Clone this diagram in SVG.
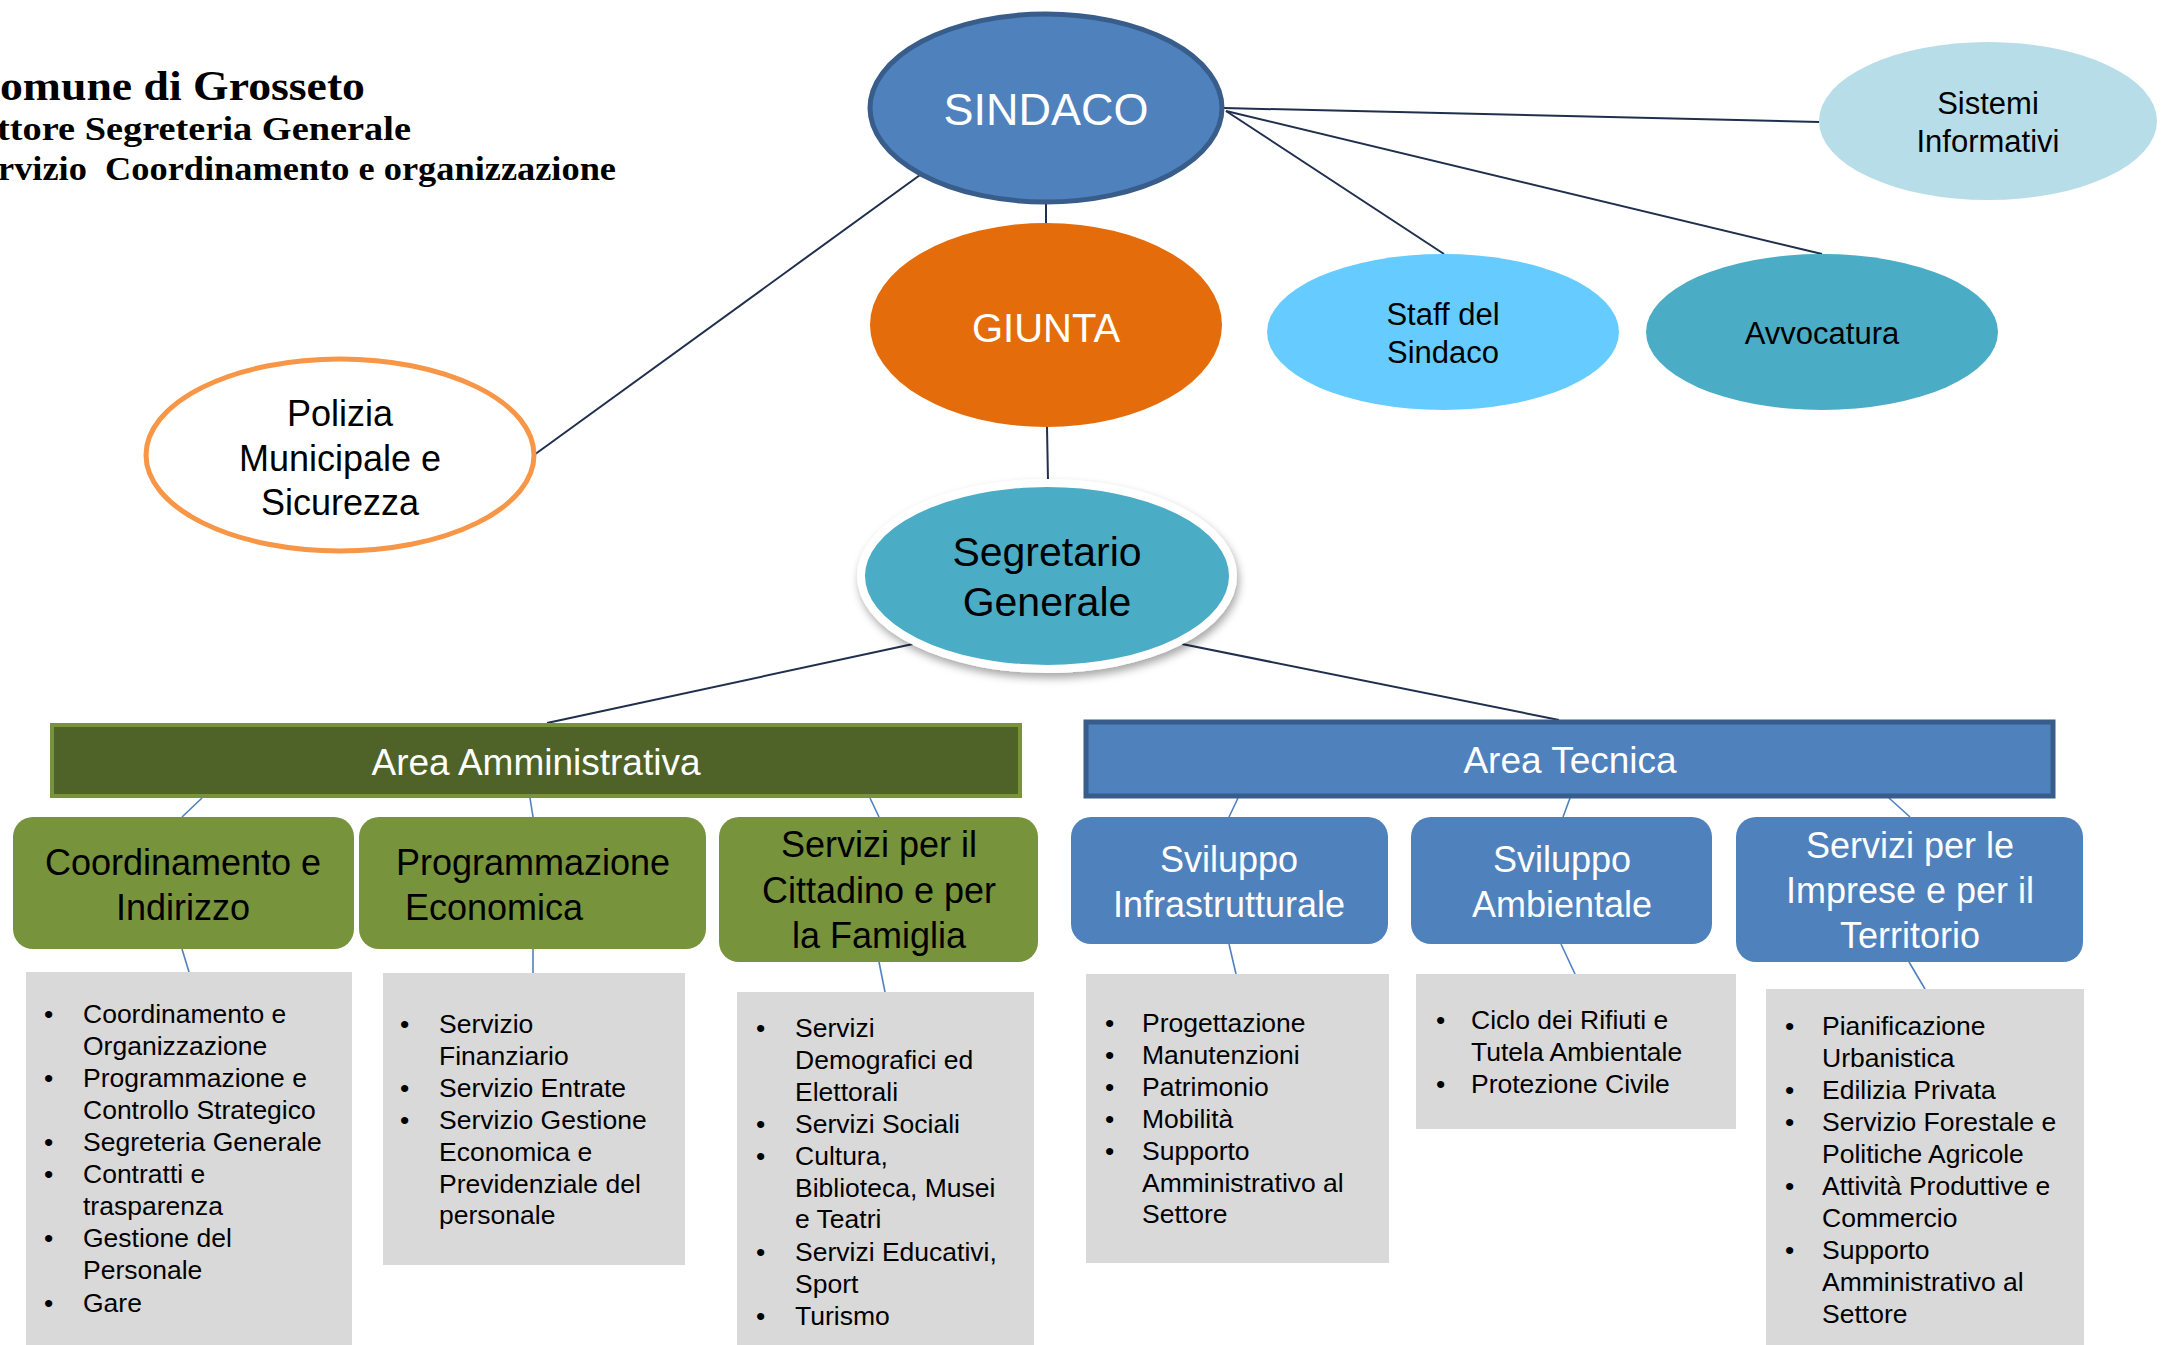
<svg xmlns="http://www.w3.org/2000/svg" width="2174" height="1345" viewBox="0 0 2174 1345">
<style>
.t{font-family:"Liberation Sans",Arial,sans-serif}
.ttl{font-family:"Liberation Serif","Times New Roman",serif;font-weight:bold;fill:#000}
.w{fill:#fff}
.k{fill:#000}
.m{text-anchor:middle}
.c{stroke:#1F2F4D;stroke-width:2;fill:none}
.b{stroke:#4F81BD;stroke-width:1.6;fill:none}
.g{fill:#D9D9D9}
.li{font-family:"Liberation Sans",Arial,sans-serif;font-size:26.5px;fill:#000}
.gr{fill:#77933C}
.bl{fill:#4F81BD}
</style>
<defs>
<filter id="sh" x="-20%" y="-20%" width="140%" height="150%">
<feDropShadow dx="2" dy="5" stdDeviation="4" flood-color="#000" flood-opacity="0.35"/>
</filter>
</defs>
<rect width="2174" height="1345" fill="#fff"/>

<g id="title">
<text class="ttl" x="0" y="100" font-size="43" textLength="365" lengthAdjust="spacingAndGlyphs">omune di Grosseto</text>
<text class="ttl" x="-3" y="140" font-size="33" textLength="414" lengthAdjust="spacingAndGlyphs">ttore Segreteria Generale</text>
<text class="ttl" x="-2" y="180" font-size="33" textLength="618" lengthAdjust="spacingAndGlyphs" xml:space="preserve">rvizio  Coordinamento e organizzazione</text>
</g>

<g id="connectors">
<line class="c" x1="1224" y1="108" x2="1819" y2="122"/>
<line class="c" x1="1226" y1="111" x2="1822" y2="254"/>
<line class="c" x1="1226" y1="111" x2="1444" y2="254"/>
<line class="c" x1="1046" y1="202" x2="1046" y2="224"/>
<line class="c" x1="920" y1="175" x2="534" y2="455"/>
<line class="c" x1="1047" y1="427" x2="1048" y2="481"/>
<line class="c" x1="913" y1="644" x2="547" y2="723"/>
<line class="c" x1="1182" y1="644" x2="1559" y2="720"/>
<line class="b" x1="202" y1="798" x2="182" y2="817"/>
<line class="b" x1="530" y1="798" x2="533" y2="817"/>
<line class="b" x1="870" y1="798" x2="879" y2="817"/>
<line class="b" x1="1238" y1="798" x2="1229" y2="817"/>
<line class="b" x1="1570" y1="798" x2="1563" y2="817"/>
<line class="b" x1="1889" y1="798" x2="1910" y2="817"/>
<line class="b" x1="182" y1="949" x2="189" y2="972"/>
<line class="b" x1="533" y1="949" x2="533" y2="973"/>
<line class="b" x1="879" y1="962" x2="885" y2="992"/>
<line class="b" x1="1229" y1="944" x2="1236" y2="974"/>
<line class="b" x1="1561" y1="944" x2="1575" y2="974"/>
<line class="b" x1="1909" y1="962" x2="1925" y2="989"/>
</g>

<g id="sindaco">
<ellipse cx="1046" cy="108" rx="176" ry="94" fill="#4F81BD" stroke="#385D8A" stroke-width="5"/>
<text class="t w m" x="1046" y="125" font-size="45">SINDACO</text>
</g>

<g id="giunta">
<ellipse cx="1046" cy="325" rx="176" ry="102" fill="#E46C0A"/>
<text class="t w m" x="1046" y="342" font-size="40">GIUNTA</text>
</g>

<g id="staff">
<ellipse cx="1443" cy="332" rx="176" ry="78" fill="#66CCFF"/>
<text class="t k m" x="1443" y="325" font-size="31">Staff del</text>
<text class="t k m" x="1443" y="363" font-size="31">Sindaco</text>
</g>

<g id="avvocatura">
<ellipse cx="1822" cy="332" rx="176" ry="78" fill="#4BACC6"/>
<text class="t k m" x="1822" y="344" font-size="31">Avvocatura</text>
</g>

<g id="sistemi">
<ellipse cx="1988" cy="121" rx="169" ry="79" fill="#B7DDE8"/>
<text class="t k m" x="1988" y="114" font-size="31">Sistemi</text>
<text class="t k m" x="1988" y="152" font-size="31">Informativi</text>
</g>

<g id="polizia">
<ellipse cx="340" cy="455" rx="194" ry="96" fill="#fff" stroke="#F79646" stroke-width="5"/>
<text class="t k m" x="340" y="426" font-size="36">Polizia</text>
<text class="t k m" x="340" y="471" font-size="36">Municipale e</text>
<text class="t k m" x="340" y="515" font-size="36">Sicurezza</text>
</g>

<g id="segretario">
<ellipse cx="1047" cy="576" rx="186" ry="93" fill="#4BACC6" stroke="#fff" stroke-width="8" filter="url(#sh)"/>
<text class="t k m" x="1047" y="566" font-size="41">Segretario</text>
<text class="t k m" x="1047" y="616" font-size="41">Generale</text>
</g>

<g id="area-amministrativa">
<rect x="52" y="725" width="968" height="71" fill="#4F6228" stroke="#77933C" stroke-width="4"/>
<text class="t w m" x="536" y="775" font-size="37">Area Amministrativa</text>
</g>

<g id="area-tecnica">
<rect x="1086" y="722" width="967" height="74" fill="#4F81BD" stroke="#385D8A" stroke-width="5"/>
<text class="t w m" x="1570" y="773" font-size="37">Area Tecnica</text>
</g>

<g id="coordinamento">
<rect class="gr" x="13" y="817" width="341" height="132" rx="20"/>
<text class="t k m" x="183" y="875" font-size="36">Coordinamento e</text>
<text class="t k m" x="183" y="920" font-size="36">Indirizzo</text>
</g>

<g id="programmazione">
<rect class="gr" x="359" y="817" width="347" height="132" rx="20"/>
<text class="t k m" x="533" y="875" font-size="36">Programmazione</text>
<text class="t k" x="405" y="920" font-size="36">Economica</text>
</g>

<g id="servizi-cittadino">
<rect class="gr" x="719" y="817" width="319" height="145" rx="20"/>
<text class="t k m" x="879" y="857" font-size="36">Servizi per il</text>
<text class="t k m" x="879" y="903" font-size="36">Cittadino e per</text>
<text class="t k m" x="879" y="948" font-size="36">la Famiglia</text>
</g>

<g id="sviluppo-infrastrutturale">
<rect class="bl" x="1071" y="817" width="317" height="127" rx="20"/>
<text class="t w m" x="1229" y="872" font-size="36">Sviluppo</text>
<text class="t w m" x="1229" y="917" font-size="36">Infrastrutturale</text>
</g>

<g id="sviluppo-ambientale">
<rect class="bl" x="1411" y="817" width="301" height="127" rx="20"/>
<text class="t w m" x="1562" y="872" font-size="36">Sviluppo</text>
<text class="t w m" x="1562" y="917" font-size="36">Ambientale</text>
</g>

<g id="servizi-imprese">
<rect class="bl" x="1736" y="817" width="347" height="145" rx="20"/>
<text class="t w m" x="1910" y="858" font-size="36">Servizi per le</text>
<text class="t w m" x="1910" y="903" font-size="36">Imprese e per il</text>
<text class="t w m" x="1910" y="948" font-size="36">Territorio</text>
</g>

<g id="list-coordinamento">
<rect class="g" x="26" y="972" width="326" height="373"/>
<text class="li" x="44" y="1023">•</text><text class="li" x="83" y="1023">Coordinamento e</text>
<text class="li" x="83" y="1055">Organizzazione</text>
<text class="li" x="44" y="1087">•</text><text class="li" x="83" y="1087">Programmazione e</text>
<text class="li" x="83" y="1119">Controllo Strategico</text>
<text class="li" x="44" y="1151">•</text><text class="li" x="83" y="1151">Segreteria Generale</text>
<text class="li" x="44" y="1183">•</text><text class="li" x="83" y="1183">Contratti e</text>
<text class="li" x="83" y="1215">trasparenza</text>
<text class="li" x="44" y="1247">•</text><text class="li" x="83" y="1247">Gestione del</text>
<text class="li" x="83" y="1279">Personale</text>
<text class="li" x="44" y="1312">•</text><text class="li" x="83" y="1312">Gare</text>
</g>

<g id="list-programmazione">
<rect class="g" x="383" y="973" width="302" height="292"/>
<text class="li" x="400" y="1033">•</text><text class="li" x="439" y="1033">Servizio</text>
<text class="li" x="439" y="1065">Finanziario</text>
<text class="li" x="400" y="1097">•</text><text class="li" x="439" y="1097">Servizio Entrate</text>
<text class="li" x="400" y="1129">•</text><text class="li" x="439" y="1129">Servizio Gestione</text>
<text class="li" x="439" y="1161">Economica e</text>
<text class="li" x="439" y="1193">Previdenziale del</text>
<text class="li" x="439" y="1224">personale</text>
</g>

<g id="list-servizi-cittadino">
<rect class="g" x="737" y="992" width="297" height="353"/>
<text class="li" x="756" y="1037">•</text><text class="li" x="795" y="1037">Servizi</text>
<text class="li" x="795" y="1069">Demografici ed</text>
<text class="li" x="795" y="1101">Elettorali</text>
<text class="li" x="756" y="1133">•</text><text class="li" x="795" y="1133">Servizi Sociali</text>
<text class="li" x="756" y="1165">•</text><text class="li" x="795" y="1165">Cultura,</text>
<text class="li" x="795" y="1197">Biblioteca, Musei</text>
<text class="li" x="795" y="1228">e Teatri</text>
<text class="li" x="756" y="1261">•</text><text class="li" x="795" y="1261">Servizi Educativi,</text>
<text class="li" x="795" y="1293">Sport</text>
<text class="li" x="756" y="1325">•</text><text class="li" x="795" y="1325">Turismo</text>
</g>

<g id="list-infrastrutturale">
<rect class="g" x="1086" y="974" width="303" height="289"/>
<text class="li" x="1105" y="1032">•</text><text class="li" x="1142" y="1032">Progettazione</text>
<text class="li" x="1105" y="1064">•</text><text class="li" x="1142" y="1064">Manutenzioni</text>
<text class="li" x="1105" y="1096">•</text><text class="li" x="1142" y="1096">Patrimonio</text>
<text class="li" x="1105" y="1128">•</text><text class="li" x="1142" y="1128">Mobilità</text>
<text class="li" x="1105" y="1160">•</text><text class="li" x="1142" y="1160">Supporto</text>
<text class="li" x="1142" y="1192">Amministrativo al</text>
<text class="li" x="1142" y="1223">Settore</text>
</g>

<g id="list-ambientale">
<rect class="g" x="1416" y="974" width="320" height="155"/>
<text class="li" x="1436" y="1029">•</text><text class="li" x="1471" y="1029">Ciclo dei Rifiuti e</text>
<text class="li" x="1471" y="1061">Tutela Ambientale</text>
<text class="li" x="1436" y="1093">•</text><text class="li" x="1471" y="1093">Protezione Civile</text>
</g>

<g id="list-imprese">
<rect class="g" x="1766" y="989" width="318" height="356"/>
<text class="li" x="1785" y="1035">•</text><text class="li" x="1822" y="1035">Pianificazione</text>
<text class="li" x="1822" y="1067">Urbanistica</text>
<text class="li" x="1785" y="1099">•</text><text class="li" x="1822" y="1099">Edilizia Privata</text>
<text class="li" x="1785" y="1131">•</text><text class="li" x="1822" y="1131">Servizio Forestale e</text>
<text class="li" x="1822" y="1163">Politiche Agricole</text>
<text class="li" x="1785" y="1195">•</text><text class="li" x="1822" y="1195">Attività Produttive e</text>
<text class="li" x="1822" y="1227">Commercio</text>
<text class="li" x="1785" y="1259">•</text><text class="li" x="1822" y="1259">Supporto</text>
<text class="li" x="1822" y="1291">Amministrativo al</text>
<text class="li" x="1822" y="1323">Settore</text>
</g>
</svg>
